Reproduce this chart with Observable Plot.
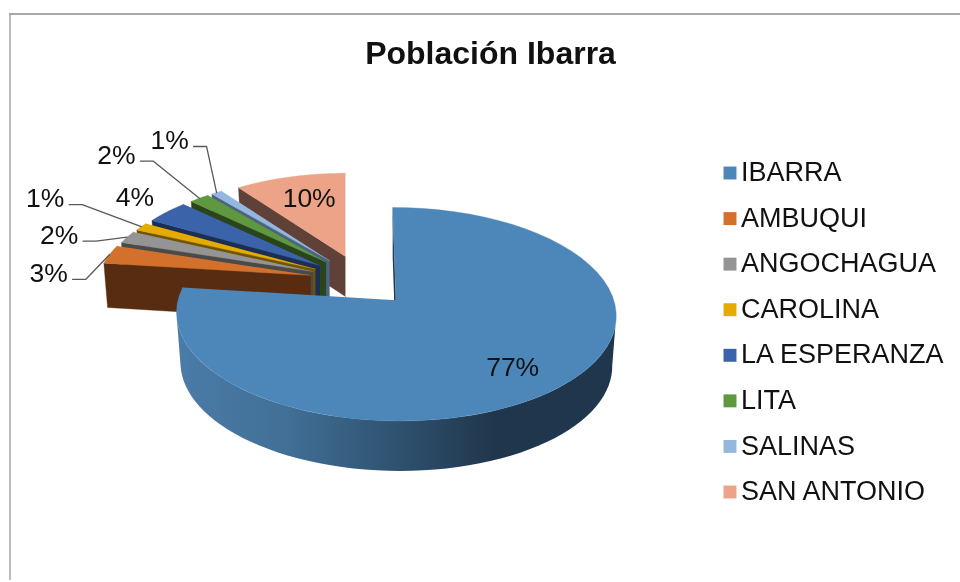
<!DOCTYPE html>
<html>
<head>
<meta charset="utf-8">
<script src="https://cdn.jsdelivr.net/npm/d3@7"></script>
<script src="https://cdn.jsdelivr.net/npm/@observablehq/plot@0.6"></script>
<style>html,body{margin:0;padding:0;background:#fff}svg{display:block;filter:blur(0.4px)}</style>
</head>
<body>
<div id="chart"></div>
<script>
const title = "Población Ibarra";
const parishes = ["IBARRA","AMBUQUI","ANGOCHAGUA","CAROLINA","LA ESPERANZA","LITA","SALINAS","SAN ANTONIO"];
// shares; the labels show them rounded
const shares = [77,3,2,1.3,3.9,1.8,1,10];
const topColors = ["#4d87ba","#d2702c","#949494","#e5ab00","#3a63aa","#5f983e","#93b7df","#eca387"];
const sideColors = ["#20364c","#582c10","#4a4a4a","#705400","#1b2f55","#2a451c","#4c6480","#5f4138"];
// label placement relative to the outer middle of each slice
const labelOffsets = [[-46,-20],[-61,19],[-68,-2],[-96,-28],[-32,-14],[-83,-43],[-47,-52],[19,22]];
const hasLeader = [false,true,true,true,false,true,true,false];

// 3-D pie projection settings
const persp = 0.13, explodeX = 52, explodeY = 25.8, cx = 361, cy = 280.5, mainLean = 0.035;
const rad = d3.scaleLinear().domain([256,275,300]).range([201,212,218]);
const rady = d3.scaleLinear().domain([256,300]).range([94,105]);
const depth = d3.scaleLinear().domain([256,300]).range([40,50]);
const shrink = 0.982;

const total = d3.sum(shares);
let cum = 0;
const slices = shares.map((p,i) => {
  const a0 = cum/total*2*Math.PI; cum += p;
  const a1 = cum/total*2*Math.PI, mid = (a0+a1)/2;
  const ax = cx + explodeX*Math.sin(mid), ay = cy - explodeY*Math.cos(mid);
  return {i, p, a0, a1, mid, ax, ay, rx: rad(ay), ry: rady(ay), d: depth(ay), lean: i === 0 ? mainLean : 0};
});
const onTop = (s,t) => { const k = 1/(1+persp*Math.cos(t));
  const y = s.ay - s.ry*Math.cos(t)*k;
  return [s.ax + s.rx*Math.sin(t)*k + s.lean*(y - s.ay), y]; };
const onBottom = (s,t) => { const [x,y] = onTop(s,t);
  return [s.ax + (x-s.ax)*shrink, y + s.d]; };
const arc = (s,f,t0,t1) => d3.range(0,61).map(n => f(s,t0+(t1-t0)*n/60));

const poly = (key,color,pts) => pts.map(([x,y]) => ({key,color,x,y}));
const backPolys = [];
const mainS = slices[0];
// small slices painted from the back (San Antonio) to the front (Ambuqui)
for (const s of slices.slice(1).reverse()) {
  backPolys.push(...poly("e"+s.i, sideColors[s.i],
    [[s.ax,s.ay],onTop(s,s.a0),onBottom(s,s.a0),[s.ax,s.ay+s.d]]));
  backPolys.push(...poly("t"+s.i, topColors[s.i],
    [[s.ax,s.ay],...arc(s,onTop,s.a0,s.a1)]));
}
const mainEdge = poly("me", sideColors[0],
  [[mainS.ax,mainS.ay],onTop(mainS,0),onBottom(mainS,0),[mainS.ax,mainS.ay+mainS.d]]);
const sideFrom = 98*Math.PI/180, sideTo = 262*Math.PI/180;
const mainSide = poly("ms","",[...arc(mainS,onTop,sideFrom,sideTo),...arc(mainS,onBottom,sideFrom,sideTo).reverse()]);
const mainTop = poly("mt", topColors[0], [[mainS.ax,mainS.ay],...arc(mainS,onTop,0,mainS.a1)]);

const labels = slices.map(s => {
  const [ox,oy] = onTop(s,s.mid), [dx,dy] = labelOffsets[s.i];
  return {text: Math.round(s.p)+"%", x: ox+dx, y: oy+dy, ox, oy, leader: hasLeader[s.i], key: s.i};
});
const leaders = labels.filter(l => l.leader).flatMap(l => [
  {key:l.key, x:l.x+24, y:l.y+6},{key:l.key, x:l.x+37, y:l.y+6},{key:l.key, x:l.ox, y:l.oy}]);

const legend = parishes.map((name,i) => ({name, color: topColors[i], row: i}));
const legendY = d3.scaleLinear().domain([0,7]).range([172.5,491.5]);

const gradient = () => {
  const defs = d3.create("svg:defs");
  const g = defs.append("linearGradient").attr("id","mainSide")
    .attr("gradientUnits","userSpaceOnUse").attr("x1",177).attr("x2",616).attr("y1",0).attr("y2",0);
  [[0,"#4a7ca8"],[0.25,"#416f96"],[0.5,"#2f5270"],[0.72,"#20364c"],[1,"#20364c"]]
    .forEach(([o,c]) => g.append("stop").attr("offset",o).attr("stop-color",c));
  return defs.node();
};

const chart = Plot.plot({
  width: 960, height: 582, margin: 0,
  x: {domain:[0,960], range:[0,960], axis:null},
  y: {domain:[0,582], range:[0,582], axis:null},
  style: {background:"#fff", fontFamily:"'Liberation Sans', Arial, sans-serif"},
  marks: [
    gradient,
    Plot.ruleY([13.5], {x1:9, x2:960, stroke:"#8c8c8c", strokeWidth:1.5}),
    Plot.ruleX([9.5], {y1:13, y2:580, stroke:"#a6a6a6", strokeWidth:1.5}),
    Plot.line(backPolys, {x:"x", y:"y", z:"key", fill:"color", stroke:"color", strokeWidth:0.4}),
    Plot.line(mainEdge, {x:"x", y:"y", z:"key", fill:"color", stroke:"none"}),
    Plot.line(mainSide, {x:"x", y:"y", z:"key", fill:"url(#mainSide)", stroke:"none"}),
    Plot.line(mainTop, {x:"x", y:"y", z:"key", fill:"color", stroke:"color", strokeWidth:0.4}),
    Plot.line(leaders, {x:"x", y:"y", z:"key", stroke:"#595959", strokeWidth:1.3}),
    Plot.text(labels, {x:"x", y:"y", text:"text", fontSize:26.5, fill:"#111", textAnchor:"middle", lineAnchor:"middle"}),
    Plot.text([title], {x:490, y:53, text:d=>d, fontSize:32, fontWeight:"bold", fill:"#111", textAnchor:"middle", lineAnchor:"middle"}),
    Plot.dot(legend, {x:729.5, y:d=>legendY(d.row), symbol:"square", r:7.3, fill:"color", stroke:"none"}),
    Plot.text(legend, {x:740.5, y:d=>legendY(d.row)-0.5, text:"name", fontSize:27, fill:"#111", textAnchor:"start", lineAnchor:"middle"})
  ]
});
document.getElementById("chart").append(chart);
</script>
</body>
</html>
